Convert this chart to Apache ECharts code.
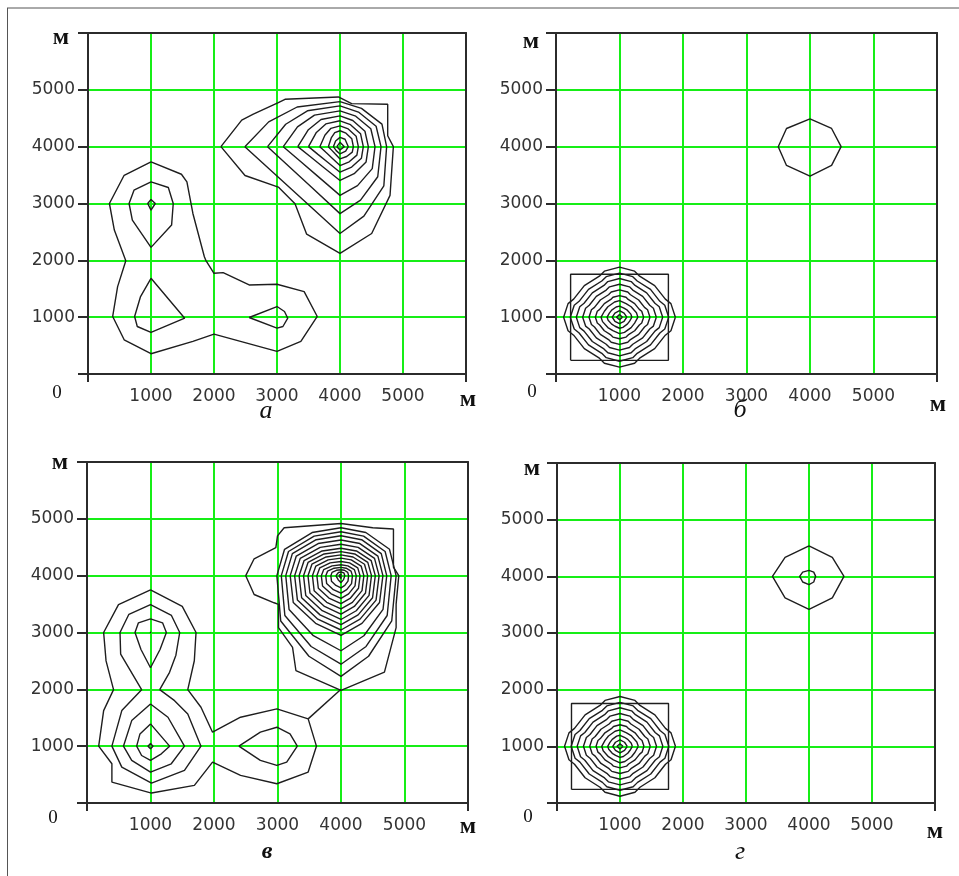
<!DOCTYPE html>
<html>
<head>
<meta charset="utf-8">
<script src="https://cdn.jsdelivr.net/npm/echarts@6/dist/echarts.min.js"></script>
<style>
html,body{margin:0;padding:0;background:#fff;}
#chart{width:959px;height:876px;}
</style>
</head>
<body>
<div id="chart"></div>
<script>
// Axis range and labels (metres)
const axisMin = 0;
const axisMax = 6000;
const axisStep = 1000;
const panelLetters = ['а', 'б', 'в', 'г'];
const unitLabel = 'м';
const originLabel = '0';

// ---- Panel а: hill around (4000, 4000), outer to inner ----
const aHill = [
  [[2110,4000],[2440,4466],[2624,4571],[3021,4776],[3127,4834],[3974,4875],[4185,4758],[4757,4746],[4757,4192],[4847,4000],[4794,3143],[4503,2472],[4000,2122],[3471,2461],[3286,2997],[3021,3289],[2492,3493],[2110,4000]],
  [[2490,4000],[2868,4436],[3320,4698],[4000,4793],[4341,4674],[4666,4397],[4740,4000],[4696,3312],[4379,2778],[4000,2472],[3396,3083],[2943,3542],[2490,4000]],
  [[2850,4000],[3138,4394],[3483,4631],[4000,4717],[4293,4609],[4573,4359],[4651,4000],[4599,3470],[4326,3058],[4000,2822],[3540,3293],[3195,3647],[2850,4000]],
  [[3100,4000],[3325,4347],[3595,4554],[4000,4630],[4250,4536],[4489,4315],[4556,4000],[4512,3614],[4278,3314],[4000,3143],[3640,3486],[3370,3743],[3100,4000]],
  [[3330,4000],[3498,4298],[3699,4477],[4000,4542],[4203,4461],[4396,4271],[4450,4000],[4414,3732],[4225,3524],[4000,3405],[3732,3643],[3531,3822],[3330,4000]],
  [[3500,4000],[3625,4250],[3775,4400],[4000,4455],[4167,4387],[4326,4228],[4370,4000],[4340,3798],[4185,3641],[4000,3551],[3800,3731],[3650,3865],[3500,4000]],
  [[3680,4000],[3760,4202],[3856,4323],[4000,4367],[4131,4312],[4256,4184],[4291,4000],[4268,3851],[4146,3734],[4000,3668],[3872,3801],[3776,3900],[3680,4000]],
  [[3815,4000],[3861,4154],[3917,4246],[4000,4280],[4095,4238],[4187,4140],[4212,4000],[4195,3903],[4106,3827],[4000,3784],[3926,3870],[3871,3935],[3815,4000]],
  [[3895,4000],[3930,4100],[4000,4163],[4080,4130],[4132,4000],[4090,3920],[4000,3872],[3940,3930],[3895,4000]],
  [[3950,4000],[4000,4076],[4069,4000],[4000,3942],[3950,4000]]
];

// ---- Panel а: lowland group around (1000,3000), (1000,1000), (3000,1000) ----
const aLowland = [
  [[1000,3731],[1483,3515],[1570,3380],[1665,2825],[1847,2064],[1870,2000],[2000,1772],[2145,1784],[2558,1567],[3000,1579],[3431,1450],[3639,1012],[3379,573],[3000,398],[2000,702],[1665,573],[1000,357],[574,602],[392,1012],[470,1538],[600,1994],[418,2532],[340,3000],[574,3497],[1000,3731]],
  [[1000,3380],[1275,3281],[1353,3000],[1327,2620],[1000,2228],[704,2708],[652,3000],[730,3234],[1000,3380]],
  [[1000,3070],[1068,3000],[1000,2883],[948,3000],[1000,3070]],
  [[1000,1684],[1535,982],[1000,731],[782,836],[740,1012],[834,1363],[1000,1684]],
  [[2558,994],[3000,1187],[3119,1099],[3171,982],[3094,836],[3000,807],[2558,994]]
];

// ---- Panels б and г: concentric rings around (1000, 1000), outer to inner ----
const starRings = [
  [[1880,1000],[1810,1238],[1722,1317],[1554,1554],[1317,1722],[1238,1810],[1000,1880],[762,1810],[683,1722],[446,1554],[278,1317],[190,1238],[120,1000],[190,762],[278,683],[446,446],[683,278],[762,190],[1000,120],[1238,190],[1317,278],[1554,446],[1722,683],[1810,762],[1880,1000]],
  [[1775,1000],[1713,1209],[1636,1279],[1488,1488],[1279,1636],[1209,1713],[1000,1775],[791,1713],[721,1636],[512,1488],[364,1279],[287,1209],[225,1000],[287,791],[364,721],[512,512],[721,364],[791,287],[1000,225],[1209,287],[1279,364],[1488,512],[1636,721],[1713,791],[1775,1000]],
  [[1680,1000],[1626,1184],[1558,1245],[1428,1428],[1245,1558],[1184,1626],[1000,1680],[816,1626],[755,1558],[572,1428],[442,1245],[374,1184],[320,1000],[374,816],[442,755],[572,572],[755,442],[816,374],[1000,320],[1184,374],[1245,442],[1428,572],[1558,755],[1626,816],[1680,1000]],
  [[1580,1000],[1534,1157],[1476,1209],[1365,1365],[1209,1476],[1157,1534],[1000,1580],[843,1534],[791,1476],[635,1365],[524,1209],[466,1157],[420,1000],[466,843],[524,791],[635,635],[791,524],[843,466],[1000,420],[1157,466],[1209,524],[1365,635],[1476,791],[1534,843],[1580,1000]],
  [[1480,1000],[1442,1130],[1394,1173],[1302,1302],[1173,1394],[1130,1442],[1000,1480],[870,1442],[827,1394],[698,1302],[606,1173],[558,1130],[520,1000],[558,870],[606,827],[698,698],[827,606],[870,558],[1000,520],[1130,558],[1173,606],[1302,698],[1394,827],[1442,870],[1480,1000]],
  [[1380,1000],[1350,1103],[1312,1137],[1239,1239],[1137,1312],[1103,1350],[1000,1380],[897,1350],[863,1312],[761,1239],[688,1137],[650,1103],[620,1000],[650,897],[688,863],[761,761],[863,688],[897,650],[1000,620],[1103,650],[1137,688],[1239,761],[1312,863],[1350,897],[1380,1000]],
  [[1290,1000],[1267,1078],[1238,1104],[1183,1183],[1104,1238],[1078,1267],[1000,1290],[922,1267],[896,1238],[817,1183],[762,1104],[733,1078],[710,1000],[733,922],[762,896],[817,817],[896,762],[922,733],[1000,710],[1078,733],[1104,762],[1183,817],[1238,896],[1267,922],[1290,1000]],
  [[1195,1000],[1179,1053],[1160,1070],[1123,1123],[1070,1160],[1053,1179],[1000,1195],[947,1179],[930,1160],[877,1123],[840,1070],[821,1053],[805,1000],[821,947],[840,930],[877,877],[930,840],[947,821],[1000,805],[1053,821],[1070,840],[1123,877],[1160,930],[1179,947],[1195,1000]],
  [[1115,1000],[1072,1072],[1000,1115],[928,1072],[885,1000],[928,928],[1000,885],[1072,928],[1115,1000]],
  [[1047,1000],[1000,1047],[953,1000],[1000,953],[1047,1000]]
];
const starFrame = [[230,240],[1770,240],[1770,1755],[230,1755],[230,240]];

// Panel б: single ring around (4000, 4000)
const bRing = [[4000,4490],[4340,4320],[4490,4000],[4340,3670],[4000,3480],[3630,3670],[3500,4000],[3630,4320],[4000,4490]];
// Panel г: two rings around (4000, 4000)
const dRings = [
  [[4000,4537],[4370,4333],[4555,4000],[4370,3620],[4000,3417],[3620,3620],[3420,4000],[3620,4333],[4000,4537]],
  [[4000,4105],[4075,4075],[4106,4000],[4075,3900],[4000,3855],[3900,3900],[3852,4000],[3900,4075],[4000,4105]]
];

// ---- Panel в: hill around (4000, 4000), outer to inner ----
const cHill = [
  [[4000,4919],[4500,4843],[4826,4820],[4826,4150],[4910,4000],[4868,3500],[4868,3087],[4684,2302],[4000,1983],[3290,2331],[3237,2738],[3016,3087],[3016,3494],[2947,3523],[2632,3669],[2500,4000],[2632,4297],[2974,4494],[3000,4700],[3105,4843],[4000,4919]],
  [[2990,4000],[3111,4464],[3545,4759],[4000,4843],[4391,4759],[4764,4464],[4868,4000],[4799,3203],[4434,2582],[4000,2228],[3495,2582],[3051,3203],[2990,4000]],
  [[3060,4000],[3173,4425],[3577,4696],[4000,4773],[4356,4696],[4695,4425],[4790,4000],[4727,3299],[4395,2754],[4000,2442],[3530,2754],[3116,3299],[3060,4000]],
  [[3130,4000],[3234,4387],[3609,4633],[4000,4703],[4324,4633],[4634,4387],[4720,4000],[4662,3406],[4360,2943],[4000,2679],[3565,2943],[3182,3406],[3130,4000]],
  [[3200,4000],[3296,4345],[3640,4565],[4000,4628],[4297,4565],[4581,4345],[4660,4000],[4607,3528],[4330,3161],[4000,2951],[3600,3161],[3248,3528],[3200,4000]],
  [[3270,4000],[3358,4304],[3672,4497],[4000,4552],[4270,4497],[4528,4304],[4600,4000],[4552,3570],[4300,3235],[4000,3044],[3635,3235],[3314,3570],[3270,4000]],
  [[3340,4000],[3419,4266],[3703,4435],[4000,4483],[4243,4435],[4475,4266],[4540,4000],[4497,3612],[4270,3310],[4000,3137],[3670,3310],[3380,3612],[3340,4000]],
  [[3410,4000],[3481,4233],[3734,4382],[4000,4424],[4216,4382],[4422,4233],[4480,4000],[4442,3653],[4240,3383],[4000,3229],[3705,3383],[3445,3653],[3410,4000]],
  [[3480,4000],[3542,4201],[3766,4329],[4000,4366],[4189,4329],[4370,4201],[4420,4000],[4386,3695],[4210,3458],[4000,3322],[3740,3458],[3511,3695],[3480,4000]],
  [[3550,4000],[3604,4169],[3798,4277],[4000,4308],[4162,4277],[4317,4169],[4360,4000],[4331,3736],[4180,3531],[4000,3414],[3775,3531],[3577,3736],[3550,4000]],
  [[3620,4000],[3666,4138],[3829,4225],[4000,4250],[4135,4225],[4264,4138],[4300,4000],[4276,3778],[4150,3606],[4000,3507],[3810,3606],[3643,3778],[3620,4000]],
  [[3690,4000],[3727,4106],[3860,4173],[4000,4192],[4108,4173],[4211,4106],[4240,4000],[4221,3820],[4120,3680],[4000,3600],[3845,3680],[3709,3820],[3690,4000]],
  [[3760,4000],[3789,4080],[3892,4131],[4000,4145],[4081,4131],[4158,4080],[4180,4000],[4166,3861],[4090,3754],[4000,3692],[3880,3754],[3774,3861],[3760,4000]],
  [[3840,4000],[3859,4058],[3928,4095],[4000,4105],[4054,4095],[4106,4058],[4120,4000],[4110,3903],[4060,3828],[4000,3785],[3920,3828],[3850,3903],[3840,4000]],
  [[3920,4000],[3960,4055],[4000,4064],[4045,4050],[4060,4000],[4040,3930],[4000,3877],[3955,3930],[3920,4000]],
  [[3965,4000],[4000,4030],[4030,4000],[4000,3950],[3965,4000]]
];

// ---- Panel в: lowland group ----
const cLowland = [
  [[1000,3750],[1500,3460],[1717,3000],[1690,2503],[1587,1994],[1795,1684],[1977,1246],[2418,1509],[2990,1655],[3483,1480],[3613,1000],[3483,544],[2990,339],[2418,485],[1977,719],[1691,310],[1016,175],[392,368],[392,690],[184,1000],[262,1626],[418,1994],[300,2500],[262,3000],[496,3490],[1000,3750]],
  [[3483,1480],[4000,2000]],
  [[1145,1994],[1300,2300],[1400,2600],[1460,3000],[1330,3300],[1000,3490],[660,3320],[520,3000],[530,2620],[860,1994],[548,1626],[392,1000],[548,632],[1016,351],[1535,573],[1795,1000],[1587,1567],[1379,1801],[1145,1994]],
  [[1000,3240],[1190,3170],[1250,3000],[1150,2700],[1000,2380],[850,2700],[756,3000],[810,3170],[1000,3240]],
  [[1000,1743],[1275,1509],[1535,1000],[1327,690],[1000,544],[704,749],[574,1000],[704,1450],[1000,1743]],
  [[1000,1392],[1301,1000],[1171,865],[1000,749],[860,836],[782,1000],[834,1216],[1000,1392]],
  [[1000,1045],[1040,1000],[1000,955],[960,1000],[1000,1045]],
  [[2392,1000],[2730,1246],[2990,1333],[3197,1216],[3312,1000],[3145,719],[2990,661],[2730,749],[2392,1000]],
  [[990,3000],[1010,3000]],
  [[2990,1000],[3010,1000]]
];

// ---- layout ----
const panels = [
  { box: {left: 88, top: 33, width: 378, height: 341}, lines: aHill.concat(aLowland),
    letter: [266, 411], zero: [57, 393], unitTop: [61, 38], unitRight: [468, 400] },
  { box: {left: 556, top: 33, width: 381, height: 341}, lines: starRings.concat([starFrame, bRing]),
    letter: [740, 410], zero: [532, 392], unitTop: [531, 42], unitRight: [938, 405] },
  { box: {left: 87, top: 462, width: 381, height: 341}, lines: cHill.concat(cLowland),
    letter: [267, 852], zero: [53, 818], unitTop: [60, 463], unitRight: [468, 827] },
  { box: {left: 557, top: 463, width: 378, height: 340}, lines: starRings.concat([starFrame], dRings),
    letter: [740, 852], zero: [528, 817], unitTop: [532, 469], unitRight: [935, 832] }
];

const axisColor = '#2b2b2b';
const gridGreen = '#16ee16';
const tickFont = { fontFamily: 'DejaVu Sans', fontSize: 17, color: '#333' };

const grid = [], xAxis = [], yAxis = [], series = [], graphic = [];

panels.forEach((p, g) => {
  grid.push(Object.assign({ containLabel: false }, p.box));
  const base = { min: axisMin, max: axisMax, interval: axisStep, gridIndex: g, type: 'value' };
  // bottom axis with labels and green grid
  xAxis.push(Object.assign({}, base, {
    position: 'bottom',
    axisLine: { show: true, onZero: false, lineStyle: { color: axisColor, width: 2 } },
    axisTick: { show: false },
    axisLabel: Object.assign({ margin: 14, formatter: v => (v > axisMin && v < axisMax) ? String(v) : '' }, tickFont),
    splitLine: { show: true, lineStyle: { color: gridGreen, width: 2 } }
  }));
  // end ticks of the bottom axis
  xAxis.push(Object.assign({}, base, {
    position: 'bottom', interval: axisMax,
    axisLine: { show: false, onZero: false },
    axisTick: { show: true, length: 8, lineStyle: { color: axisColor, width: 2 } },
    axisLabel: { show: false },
    splitLine: { show: false }
  }));
  // top frame
  xAxis.push(Object.assign({}, base, {
    position: 'top',
    axisLine: { show: true, onZero: false, lineStyle: { color: axisColor, width: 2 } },
    axisTick: { show: false }, axisLabel: { show: false }, splitLine: { show: false }
  }));
  yAxis.push(Object.assign({}, base, {
    position: 'left',
    axisLine: { show: true, onZero: false, lineStyle: { color: axisColor, width: 2 } },
    axisTick: { show: true, length: 10, lineStyle: { color: axisColor, width: 2 } },
    axisLabel: Object.assign({ margin: 13, formatter: v => (v > axisMin && v < axisMax) ? String(v) : '' }, tickFont),
    splitLine: { show: true, lineStyle: { color: gridGreen, width: 2 } }
  }));
  yAxis.push(Object.assign({}, base, {
    position: 'right',
    axisLine: { show: true, onZero: false, lineStyle: { color: axisColor, width: 2 } },
    axisTick: { show: false }, axisLabel: { show: false }, splitLine: { show: false }
  }));

  p.lines.forEach(line => {
    series.push({
      type: 'line', xAxisIndex: g * 3, yAxisIndex: g * 2, data: line,
      showSymbol: false, symbol: 'none', silent: true,
      lineStyle: { color: '#1e1e1e', width: 1.4 }
    });
  });

  const txt = (pos, text, font) => graphic.push({
    type: 'text', x: pos[0], y: pos[1], silent: true,
    style: { text: text, font: font, fill: '#111', textAlign: 'center', textVerticalAlign: 'middle' }
  });
  txt(p.letter, panelLetters[g], (g === 2 ? 'italic bold 24px ' : 'italic 26px ') + '"Liberation Serif", serif');
  txt(p.zero, originLabel, '19px "Liberation Serif", serif');
  txt(p.unitTop, unitLabel, 'bold 24px "Liberation Serif", serif');
  txt(p.unitRight, unitLabel, 'bold 24px "Liberation Serif", serif');
});

// figure border: top and left edges
graphic.push({ type: 'line', silent: true, shape: { x1: 7, y1: 8, x2: 959, y2: 8 }, style: { stroke: '#555', lineWidth: 1 } });
graphic.push({ type: 'line', silent: true, shape: { x1: 7.5, y1: 8, x2: 7.5, y2: 876 }, style: { stroke: '#555', lineWidth: 1 } });

const chart = echarts.init(document.getElementById('chart'), null, { renderer: 'canvas' });
chart.setOption({
  animation: false,
  backgroundColor: '#fff',
  grid: grid, xAxis: xAxis, yAxis: yAxis, series: series, graphic: graphic
});
</script>
</body>
</html>
